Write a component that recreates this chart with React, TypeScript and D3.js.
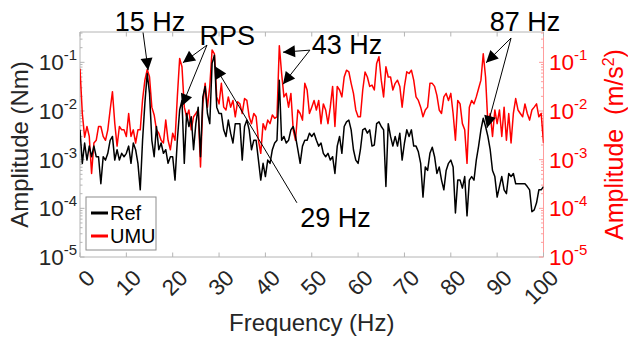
import React from 'react';
import * as d3 from 'd3';

// Frequency bins (Hz): 0 .. 100 in 0.5 Hz steps
const FREQ_STEP = 0.5;

// Ref torque spectrum amplitude (Nm), left axis
const refAmp = [
  4.1e-3, 8.4e-4, 2.2e-3, 9.8e-4, 1.9e-3, 1.15e-3, 1.9e-3, 1.15e-3, 1.15e-3, 3.2e-4,
  1.15e-3, 9.8e-4, 1.35e-3, 2.5e-3, 3.0e-3, 9.8e-4, 1.6e-3, 9.8e-4, 1.35e-3, 1.15e-3,
  1.35e-3, 1.9e-3, 8.4e-4, 2.2e-3, 1.6e-3, 8.4e-4, 2.4e-4, 2.5e-3, 1.45e-2, 5.9e-2,
  2.3e-2, 2.5e-3, 1.15e-3, 4.8e-3, 1.6e-3, 2.2e-3, 1.35e-3, 1.6e-3, 8.4e-4, 1.15e-3,
  1.15e-3, 3.8e-4, 2.5e-3, 1.05e-2, 1.65e-2, 8.4e-4, 8.9e-3, 4.8e-3, 7.6e-3, 1.6e-3,
  5.5e-3, 1.2e-2, 1.15e-3, 1.95e-2, 3.2e-2, 8.9e-3, 5.5e-3, 9.5e-2, 1.4e-1, 1.2e-2,
  8.9e-3, 8.9e-3, 4.1e-3, 3.0e-3, 6.5e-3, 3.5e-3, 2.2e-3, 5.5e-3, 5.5e-3, 5.5e-3,
  9.8e-4, 4.8e-3, 6.5e-3, 4.1e-3, 1.6e-3, 2.5e-3, 2.5e-3, 9.8e-4, 3.8e-4, 8.4e-4,
  4.5e-4, 9.8e-4, 8.4e-4, 1.6e-3, 2.2e-3, 2.5e-3, 4.3e-2, 2.5e-3, 3.0e-3, 2.2e-3,
  2.5e-3, 4.1e-3, 4.8e-3, 3.0e-3, 1.6e-3, 8.4e-4, 1.9e-3, 2.5e-3, 2.5e-3, 3.5e-3,
  3.0e-3, 3.5e-3, 2.5e-3, 1.9e-3, 2.2e-3, 1.35e-3, 1.15e-3, 1.35e-3, 9.8e-4, 1.15e-3,
  5.2e-4, 1.9e-3, 3.0e-3, 1.35e-3, 4.8e-3, 6.0e-3, 6.5e-3, 4.1e-3, 1.6e-3, 9.8e-4,
  8.4e-4, 1.6e-3, 4.1e-3, 4.4e-3, 3.5e-3, 4.1e-3, 1.9e-3, 2.0e-3, 5.5e-3, 6.0e-3,
  4.8e-3, 4.1e-3, 2.8e-4, 5.5e-3, 3.0e-3, 1.9e-3, 3.0e-3, 1.9e-3, 3.5e-3, 9.8e-4,
  2.2e-3, 4.1e-3, 3.0e-3, 4.1e-3, 1.9e-3, 1.9e-3, 1.45e-3, 8.4e-4, 1.7e-4, 7.1e-4,
  6.0e-4, 1.35e-3, 1.8e-3, 1.15e-3, 5.2e-4, 7.1e-4, 3.8e-4, 2.4e-4, 6.0e-4, 8.4e-4,
  9.8e-4, 7.1e-4, 8.0e-5, 3.8e-4, 3.8e-4, 2.6e-4, 4.5e-4, 7.0e-5, 3.8e-4, 4.5e-4,
  3.8e-4, 9.8e-4, 1.9e-3, 4.1e-3, 7.1e-3, 4.8e-3, 3.0e-3, 1.6e-3, 6.0e-4, 4.5e-4,
  1.7e-4, 2.8e-4, 4.5e-4, 2.4e-4, 2.0e-4, 5.2e-4, 4.5e-4, 5.2e-4, 3.2e-4, 3.2e-4,
  3.2e-4, 3.2e-4, 3.2e-4, 2.8e-4, 2.4e-4, 8.5e-5, 9.3e-5, 1.3e-4, 2.4e-4, 2.4e-4,
  2.8e-4,
];

// UMU acceleration spectrum amplitude (m/s^2), right axis
const umuAmp = [
  7.4e-2, 8.9e-3, 2.9e-3, 4.8e-3, 3.0e-3, 5.2e-4, 2.2e-3, 2.5e-3, 4.8e-3, 4.8e-3,
  3.0e-3, 2.5e-3, 4.1e-3, 1.05e-2, 2.5e-2, 5.6e-3, 1.9e-3, 4.8e-3, 4.1e-3, 4.1e-3,
  3.0e-3, 8.9e-3, 3.0e-3, 4.1e-3, 2.2e-3, 4.1e-3, 4.1e-3, 1.7e-2, 4.3e-2, 7.1e-2,
  5.0e-2, 1.2e-2, 8.3e-3, 4.1e-3, 3.5e-3, 2.5e-3, 2.2e-3, 6.5e-3, 2.5e-3, 1.6e-3,
  3.5e-3, 2.5e-3, 1.95e-2, 1.2e-1, 8.1e-2, 1.2e-2, 7.6e-3, 1.05e-2, 4.1e-3, 7.6e-3,
  8.9e-3, 1.05e-2, 7.1e-4, 1.4e-2, 3.7e-2, 1.2e-2, 3.2e-2, 1.8e-1, 1.5e-1, 1.95e-2,
  1.4e-2, 3.7e-2, 1.2e-2, 1.05e-2, 1.95e-2, 1.2e-2, 1.65e-2, 7.6e-3, 1.55e-2, 1.4e-2,
  8.9e-3, 1.8e-2, 1.65e-2, 7.6e-3, 5.5e-3, 8.9e-3, 7.6e-3, 2.5e-3, 1.35e-3, 5.5e-3,
  4.1e-3, 6.5e-3, 5.5e-3, 8.3e-3, 7.1e-3, 7.6e-3, 2.2e-1, 5.9e-2, 1.95e-2, 2.3e-2,
  1.2e-2, 2.3e-2, 4.1e-3, 2.5e-3, 1.05e-2, 8.9e-3, 6.5e-3, 3.7e-2, 2.7e-2, 8.9e-3,
  1.2e-2, 1.65e-2, 1.05e-2, 1.65e-2, 5.5e-3, 1.4e-2, 1.05e-2, 5.5e-3, 1.2e-2, 3.2e-2,
  4.8e-3, 3.2e-2, 2.7e-2, 1.95e-2, 5.0e-2, 6.9e-2, 6.4e-2, 3.7e-2, 2.3e-2, 1.05e-2,
  7.6e-3, 7.6e-3, 2.7e-2, 6.3e-2, 5.0e-2, 3.2e-2, 3.4e-2, 2.7e-2, 9.5e-2, 1.3e-1,
  4.3e-2, 1.95e-2, 8.1e-2, 5.0e-2, 5.0e-2, 2.7e-2, 3.7e-2, 4.3e-2, 3.2e-2, 1.2e-2,
  3.2e-2, 6.4e-2, 5.9e-2, 6.9e-2, 4.3e-2, 1.95e-2, 1.65e-2, 1.2e-2, 7.6e-3, 1.05e-2,
  1.2e-2, 3.7e-2, 3.7e-2, 3.2e-2, 2.1e-2, 1.05e-2, 8.9e-3, 1.95e-2, 2.3e-2, 1.65e-2,
  2.3e-2, 8.9e-3, 2.5e-3, 1.65e-2, 1.4e-2, 5.5e-3, 4.1e-3, 8.4e-4, 1.2e-2, 1.65e-2,
  1.4e-2, 1.95e-2, 2.9e-2, 4.3e-2, 1.5e-1, 5.0e-2, 5.5e-3, 8.9e-3, 3.0e-3, 1.05e-2,
  5.5e-3, 1.05e-2, 3.0e-3, 1.2e-2, 2.5e-3, 8.9e-3, 2.2e-3, 8.9e-3, 1.8e-2, 1.05e-2,
  8.9e-3, 7.6e-3, 1.4e-2, 8.9e-3, 6.5e-3, 1.05e-2, 1.2e-2, 1.4e-2, 7.6e-3, 8.9e-3,
  2.2e-3,
];

const xTickValues = [0, 10, 20, 30, 40, 50, 60, 70, 80, 90, 100];
const yTickExponents = [-5, -4, -3, -2, -1];

const seriesNames = ['Ref', 'UMU'];

// Annotations in data coordinates: [freq, amplitude]
const annotations = [
  { label: '15 Hz', text: [7.5, 0.45], from: [13.6, 0.41], tips: [[14.7, 0.069]] },
  { label: 'RPS', text: [25.8, 0.226], from: [27.4, 0.226], tips: [[22.2, 0.098], [22.0, 0.0126]] },
  { label: '29 Hz', text: [47.5, 4.1e-5], from: [46.8, 1.3e-4], tips: [[29.1, 0.083]] },
  { label: '43 Hz', text: [50.0, 0.15], from: [49.6, 0.178], tips: [[43.8, 0.162], [43.8, 0.0355]] },
  { label: '87 Hz', text: [88.4, 0.45], from: [93.0, 0.316], tips: [[87.6, 0.098], [87.8, 0.0045]] },
];

const FONT = 'Arial, "Liberation Sans", Helvetica, sans-serif';

function arrowHead(x1: number, y1: number, x2: number, y2: number, len = 12, half = 6) {
  const dx = x2 - x1, dy = y2 - y1;
  const d = Math.hypot(dx, dy) || 1;
  const ux = dx / d, uy = dy / d;
  const bx = x2 - ux * len, by = y2 - uy * len;
  const px = -uy * half, py = ux * half;
  return `${x2},${y2} ${bx + px},${by + py} ${bx - px},${by - py}`;
}

export default function App() {
  const W = 628, H = 339;
  const L = 80, R = 543.5, T = 32, B = 257;
  const x = d3.scaleLinear().domain([0, 100]).range([L, R]);
  const y = d3.scaleLog().domain([1e-5, 0.42]).range([B, T]);
  const freqs = refAmp.map((_, i) => i * FREQ_STEP);

  const line = d3.line<number>().x((_, i) => x(freqs[i])).y((d) => y(d));

  const minorTicks: number[] = [];
  for (let k = -5; k <= -1; k++) {
    for (let m = 2; m <= 9; m++) {
      const v = m * Math.pow(10, k);
      if (v < 0.42) minorTicks.push(v);
    }
  }

  const grayAxis = '#b4b4b4';
  const redAxis = '#ff9d9d';

  return (
    <svg width={W} height={H} style={{ position: 'absolute', left: 0, top: 0, background: '#fff' }}
      fontFamily={FONT}>
      <defs>
        <clipPath id="plotClip">
          <rect x={L} y={T} width={R - L} height={B - T} />
        </clipPath>
      </defs>
      <rect x={0} y={0} width={W} height={H} fill="#fff" />

      {/* box */}
      <line x1={L} y1={T} x2={R} y2={T} stroke={grayAxis} strokeWidth={1} />
      <line x1={L} y1={B} x2={R} y2={B} stroke={grayAxis} strokeWidth={1} />
      <line x1={L} y1={T} x2={L} y2={B} stroke={grayAxis} strokeWidth={1} />
      <line x1={R} y1={T} x2={R} y2={B} stroke={redAxis} strokeWidth={1} />

      {/* x ticks */}
      {xTickValues.map((v) => (
        <g key={'xt' + v}>
          <line x1={x(v)} x2={x(v)} y1={B} y2={B - 4.5} stroke={grayAxis} />
          <line x1={x(v)} x2={x(v)} y1={T} y2={T + 4.5} stroke={grayAxis} />
          <text
            transform={`translate(${x(v) + 11},${B + 17}) rotate(-45)`}
            textAnchor="end"
            dominantBaseline="central"
            fontSize={22.5}
            fill="#262626"
          >
            {v}
          </text>
        </g>
      ))}

      {/* y ticks left & right */}
      {yTickExponents.map((e) => {
        const yy = y(Math.pow(10, e));
        return (
          <g key={'yt' + e}>
            <line x1={L} x2={L + 4.5} y1={yy} y2={yy} stroke={grayAxis} />
            <line x1={R} x2={R - 4.5} y1={yy} y2={yy} stroke={redAxis} />
            <text x={77} y={yy + 8} textAnchor="end" fontSize={22.5} fill="#262626">
              10<tspan dy={-10} fontSize={15}>{String(e)}</tspan>
            </text>
            <text x={549} y={yy + 8} textAnchor="start" fontSize={22.5} fill="#ff0000">
              10<tspan dy={-10} fontSize={15}>{String(e)}</tspan>
            </text>
          </g>
        );
      })}
      {minorTicks.map((v, i) => (
        <g key={'mt' + i}>
          <line x1={L} x2={L + 2.5} y1={y(v)} y2={y(v)} stroke={grayAxis} />
          <line x1={R} x2={R - 2.5} y1={y(v)} y2={y(v)} stroke={redAxis} />
        </g>
      ))}

      {/* data */}
      <g clipPath="url(#plotClip)">
        <path d={line(umuAmp) || ''} fill="none" stroke="#ff0000" strokeWidth={1.5} strokeLinejoin="round" />
        <path d={line(refAmp) || ''} fill="none" stroke="#000000" strokeWidth={1.5} strokeLinejoin="round" />
      </g>

      {/* axis labels */}
      <text x={(L + R) / 2} y={331} textAnchor="middle" fontSize={24} fill="#262626">Frequency (Hz)</text>
      <text transform={`translate(28,${(T + B) / 2}) rotate(-90)`} textAnchor="middle" fontSize={24} fill="#262626">
        Amplitude (Nm)
      </text>
      <text transform={`translate(623,${(T + B) / 2}) rotate(-90)`} textAnchor="middle" fontSize={25} fill="#ff0000">
        Amplitude{'\u00a0\u00a0'}(m/s<tspan dy={-9} fontSize={16}>2</tspan><tspan dy={9}>)</tspan>
      </text>

      {/* legend */}
      <g>
        <rect x={86} y={197} width={70} height={53} fill="#fff" stroke="#8c8c8c" strokeWidth={1} />
        {seriesNames.map((name, i) => (
          <g key={name}>
            <line x1={91} x2={108} y1={213 + i * 23} y2={213 + i * 23}
              stroke={i === 0 ? '#000' : '#ff0000'} strokeWidth={3} />
            <text x={110} y={220 + i * 23} fontSize={20} fill="#000">{name}</text>
          </g>
        ))}
      </g>

      {/* annotations */}
      {annotations.map((a) => {
        const fx = x(a.from[0]), fy = y(a.from[1]);
        return (
          <g key={a.label}>
            <text x={x(a.text[0])} y={y(a.text[1])} fontSize={27} fill="#000">{a.label}</text>
            {a.tips.map((t, j) => {
              const tx = x(t[0]), ty = y(t[1]);
              return (
                <g key={j}>
                  <line x1={fx} y1={fy} x2={tx} y2={ty} stroke="#000" strokeWidth={1} />
                  <polygon points={arrowHead(fx, fy, tx, ty)} fill="#000" />
                </g>
              );
            })}
          </g>
        );
      })}
    </svg>
  );
}
